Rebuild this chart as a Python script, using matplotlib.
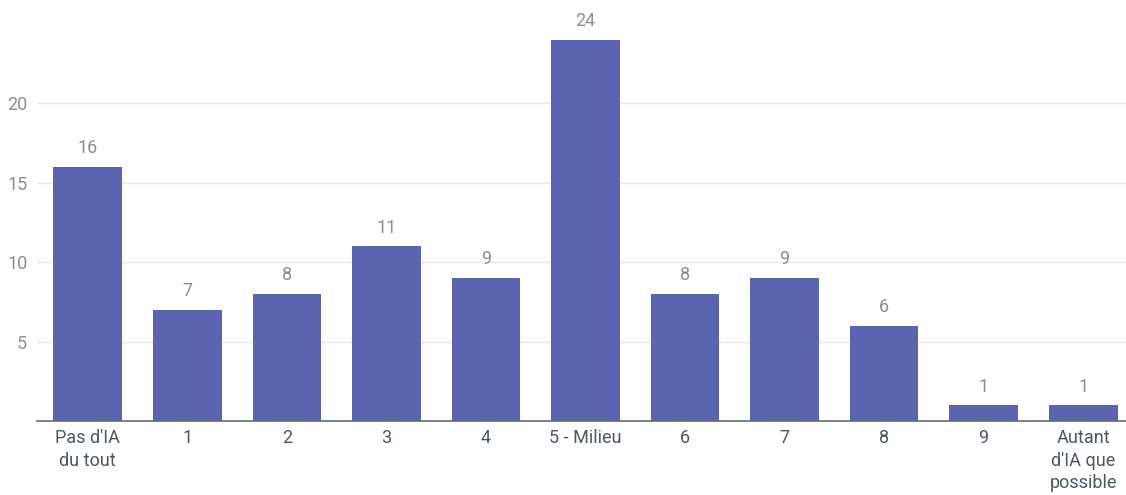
import numpy as np
import matplotlib.pyplot as plt

categories = ["Pas d'IA\ndu tout", "1", "2", "3", "4", "5 - Milieu",
              "6", "7", "8", "9", "Autant\nd'IA que\npossible"]
counts = [16, 7, 8, 11, 9, 24, 8, 9, 6, 1, 1]
yticks = [5, 10, 15, 20]

plt.rcParams['font.family'] = ['Roboto', 'DejaVu Sans']

fig = plt.figure(figsize=(11.26, 4.95), dpi=100)
W, H = 1126, 495
ax = fig.add_axes([37 / W, (H - 421) / H, (1126 - 37) / W, 421 / H])

x = np.arange(len(categories))
bars = ax.bar(x, counts, width=0.69, color='#5a64b1', zorder=3)

for xi, v in zip(x, counts):
    ax.text(xi, v + 0.6, str(v), ha='center', va='bottom',
            fontsize=13, color='#8a8f96')

ax.set_xlim(-0.51, 10.43)
ax.set_ylim(0, 26.5)
ax.set_yticks(yticks)
ax.set_yticklabels([str(t) for t in yticks])
ax.set_xticks(x)
ax.set_xticklabels(categories, fontsize=13, color='#4d5763', linespacing=1.3)

ax.grid(axis='y', color='#e8e8ea', linewidth=1, zorder=0)
ax.tick_params(axis='y', length=0, pad=7, labelsize=13, labelcolor='#8a8f96')
ax.tick_params(axis='x', length=0, pad=6)

for side in ['top', 'right', 'left']:
    ax.spines[side].set_visible(False)
ax.spines['bottom'].set_color('#5f6b77')
ax.spines['bottom'].set_linewidth(1.2)
ax.spines['bottom'].set_zorder(4)

fig.savefig('out.png', dpi=100)
